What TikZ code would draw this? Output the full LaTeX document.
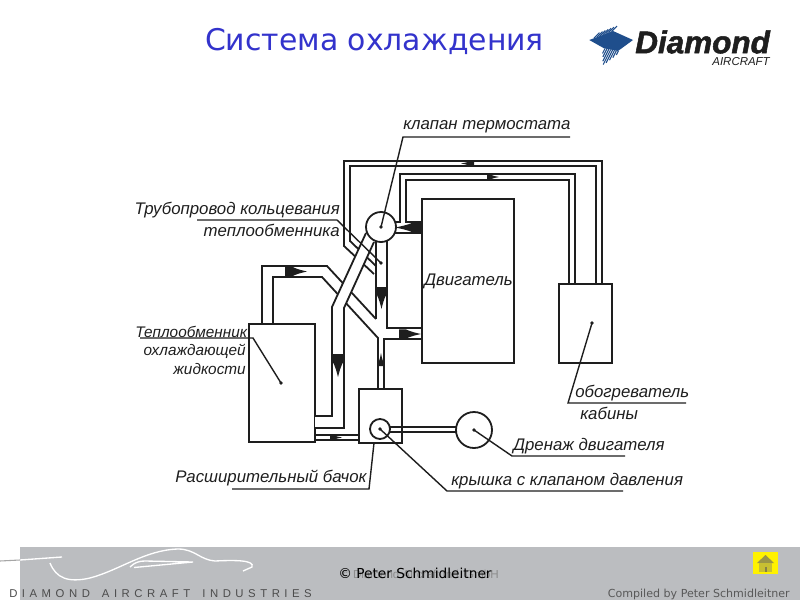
\documentclass[tikz,border=0pt]{standalone}
\usepackage{fontspec}
\setmainfont[BoldItalicFeatures={FakeBold=1.6}]{Liberation Sans}
\newfontfamily\titlefont{DejaVu Sans}
\usetikzlibrary{calc}
\definecolor{band}{HTML}{BBBDC0}
\definecolor{ink}{HTML}{1E1E1E}
\definecolor{titleblue}{HTML}{3333CC}
\definecolor{logoblue}{HTML}{1F4E8C}
\tikzset{
  pipe/.style={draw=ink,line width=1.35pt,line join=miter},
  unit/.style={draw=ink,line width=1.35pt,fill=white,inner sep=0pt,outer sep=0pt,anchor=north west},
  ring/.style={draw=ink,line width=1.35pt,fill=white,circle,inner sep=0pt,outer sep=0pt},
  leader/.style={draw=ink,line width=1.05pt},
  tag/.style={font=\fontsize{12.6}{14}\selectfont\itshape,text=ink,inner sep=0pt},
  tagsmall/.style={tag,font=\fontsize{11.5}{14}\selectfont\itshape},
  pinpoint/.style={fill=ink,circle,inner sep=0pt,minimum size=2.8pt},
  swoosh/.style={draw=white,line width=1pt},
}
% x y angle length width (pixels)
\newcommand{\flowmark}[5]{%
  \begin{scope}[shift={(#1,#2)},rotate=#3]
    \fill[ink] (0,-#5/2) -- (#4*0.3,-#5/2) .. controls (#4*0.55,-#5*0.22) and (#4*0.8,-#5*0.1) .. (#4,0)
      .. controls (#4*0.8,#5*0.1) and (#4*0.55,#5*0.22) .. (#4*0.3,#5/2) -- (0,#5/2) -- cycle;
  \end{scope}}
\begin{document}
\begin{tikzpicture}[x=0.75pt,y=-0.75pt]
\useasboundingbox (0,0) rectangle (800,600);
\fill[white] (0,0) rectangle (800,600);

% header
\node[font=\titlefont\fontsize{22.4}{26}\selectfont,text=titleblue,inner sep=0pt] (title) at (374.5,41) {Система охлаждения};

% logo
\begin{scope}
  \fill[logoblue] (589.3,40) -- (613,31) -- (633,40) -- (618,51) -- (604,48.3) -- cycle;
  \foreach \t in {0,1,...,6} {
    \draw[logoblue,line width=0.8pt] ($(594,38.2)+(\t*2.9,-\t*1.1)$) -- ++(5.5,-5.5);
  }
  \foreach \t/\l in {0/5,1/8,2/12,3/15,4/13,5/10,6/7,7/4} {
    \draw[logoblue,line width=0.8pt] ($(605,48.5)+(\t*1.9,\t*0.35)$) -- ++(-0.5*\l,\l);
  }
\end{scope}
\node[font=\fontsize{23.6}{26}\selectfont\bfseries\itshape,text=ink,inner sep=0pt,anchor=west] (brand) at (635,42) {Diamond};
\node[font=\fontsize{8.6}{10}\selectfont\itshape,text=ink,inner sep=0pt,anchor=east] (brandsub) at (770,62) {AIRCRAFT};

% units
\node[unit,minimum width=69pt,minimum height=123pt] (engine) at (422,199) {};
\node[unit,minimum width=39.75pt,minimum height=59.25pt] (heater) at (559,284) {};
\node[unit,minimum width=49.5pt,minimum height=88.5pt] (radiator) at (249,324) {};
\node[unit,minimum width=32.25pt,minimum height=40.5pt] (tank) at (359,389) {};

% heater loops
\draw[pipe] (602,284) -- (602,161) -- (344,161) -- (344,246) -- (374,274);
\draw[pipe] (596,284) -- (596,166) -- (350,166) -- (350,241) -- (376,266);
\draw[pipe] (575,284) -- (575,174) -- (400,174) -- (400,222) -- (394,222);
\draw[pipe] (569,284) -- (569,180) -- (406,180) -- (406,222) -- (422,222);
\draw[pipe] (394,233) -- (422,233);

% vertical line below the valve
\draw[pipe] (376,240) -- (376,319);
\draw[pipe] (387,240) -- (387,328) -- (422,328);

% radiator outflow to engine
\draw[pipe] (262,324) -- (262,266) -- (327,266) -- (376,319);
\draw[pipe] (273,324) -- (273,277) -- (322,277) -- (378,338) -- (378,389);
\draw[pipe] (384,389) -- (384,339) -- (422,339);

% diagonal return pipe, drawn over the crossing lines
\fill[white] (366,233) -- (332,307) -- (332,416) -- (315,416) -- (315,428) -- (344,428) -- (344,308) -- (374,242) -- cycle;
\draw[pipe] (366,233) -- (332,307) -- (332,416) -- (315,416);
\draw[pipe] (374,242) -- (344,308) -- (344,428) -- (315,428);

% tank lines
\draw[pipe,line width=1.05pt] (315,435) -- (359,435);
\draw[pipe,line width=1.05pt] (315,440) -- (359,440);

% drain pipe
\draw[pipe,line width=1.05pt] (388,427) -- (458,427);
\draw[pipe,line width=1.05pt] (388,432) -- (458,432);

% rings
\node[ring,minimum size=22.5pt] (valve) at (381,227) {};
\node[ring,minimum size=15pt] (cap) at (380,429) {};
\node[ring,minimum size=27pt] (sump) at (474,430) {};

% flow marks
\flowmark{474}{163.5}{180}{13}{4.5}
\flowmark{487}{177}{0}{12}{4.5}
\flowmark{421}{227.5}{180}{26}{10}
\flowmark{381.5}{287}{-90}{22}{10.5}
\flowmark{285}{271.5}{0}{22}{10}
\flowmark{399}{334}{0}{22}{9.5}
\flowmark{381}{366}{90}{13}{4.5}
\flowmark{338}{354}{-90}{23}{11.5}
\flowmark{330}{437.5}{0}{12}{4.5}

% pinpoints
\coordinate (heaterpin) at (592,323);
\coordinate (radpin) at (281,383);
\coordinate (bypasspin) at (381,263);
\node[pinpoint] at (heaterpin) {};
\node[pinpoint] at (radpin) {};
\node[pinpoint] at (bypasspin) {};
\node[pinpoint] at (valve.center) {};
\node[pinpoint] at (cap.center) {};
\node[pinpoint] at (sump.center) {};

% labels
\node[tag,anchor=west] (lvalve) at (403,127) {клапан термостата};
\node[tag,anchor=east] (lpipe) at (340,210) {Трубопровод кольцевания};
\node[tag,anchor=east] (lpipeb) at (340,230) {теплообменника};
\node[tag,anchor=west] (lengine) at (424,281) {Двигатель};
\node[tagsmall,anchor=west] (lrad) at (135,332) {Теплообменник};
\node[tagsmall,anchor=east] (lradb) at (246,351) {охлаждающей};
\node[tagsmall,anchor=east] (lradc) at (246,369) {жидкости};
\node[tag,anchor=west] (lheat) at (575,393) {обогреватель};
\node[tag,anchor=west] (lheatb) at (580,413) {кабины};
\node[tag,anchor=west] (ldrain) at (513,446) {Дренаж двигателя};
\node[tag,anchor=west] (lcap) at (451,481) {крышка с клапаном давления};
\node[tag,anchor=west] (ltank) at (175,478) {Расширительный бачок};

% leaders
\draw[leader] (570,137) -- (403,137) -- (valve.center);
\draw[leader] (197,220) -- (337,220) -- (bypasspin);
\draw[leader] (140,338) -- (253,338) -- (radpin);
\draw[leader] (232,489) -- (369,489) -- (374,443);
\draw[leader] (623,491) -- (447,491) -- (cap.center);
\draw[leader] (625,456) -- (512,456) -- (sump.center);
\draw[leader] (686,403) -- (568,403) -- (heaterpin);

% footer
\fill[band] (20,547) rectangle (800,600);
\draw[swoosh,draw=black!35,line width=0.8pt] (0,561) -- (20,560);
\draw[swoosh] (20,560) -- (62,557);
\draw[swoosh] (50,563) .. controls (56,578) and (68,583) .. (90,578) .. controls (120,570) and (145,550) .. (178,549)
  .. controls (195,549) and (200,560) .. (215,561) .. controls (235,560) and (255,560) .. (252,567) -- (243,571);
\draw[swoosh] (130,567) .. controls (135,562) and (140,561) .. (145,561) -- (193,562) -- (134,567.5);
\node[font=\fontsize{8.7}{10}\selectfont,text=black!45,inner sep=0pt,anchor=west] (fine) at (341,574) {© Diamond Aircraft Ind.\ GmbH};
\node[font=\titlefont\fontsize{10.3}{12}\selectfont,text=black,inner sep=0pt,anchor=west] (copy) at (338,573) {© Peter Schmidleitner};
\node[font=\fontsize{8.5}{10}\selectfont,text=black!70,inner sep=0pt,anchor=west] (maker) at (9,594) {D\hspace{3.4pt}I\hspace{3.4pt}A\hspace{3.4pt}M\hspace{3.4pt}O\hspace{3.4pt}N\hspace{3.4pt}D\hspace{9pt}A\hspace{3.4pt}I\hspace{3.4pt}R\hspace{3.4pt}C\hspace{3.4pt}R\hspace{3.4pt}A\hspace{3.4pt}F\hspace{3.4pt}T\hspace{9pt}I\hspace{3.4pt}N\hspace{3.4pt}D\hspace{3.4pt}U\hspace{3.4pt}S\hspace{3.4pt}T\hspace{3.4pt}R\hspace{3.4pt}I\hspace{3.4pt}E\hspace{3.4pt}S};
\node[font=\titlefont\fontsize{8.3}{10}\selectfont,text=black!65,inner sep=0pt,anchor=east] (credit) at (790,594) {Compiled by Peter Schmidleitner};

% home button
\fill[yellow] (753,552) rectangle (778,574);
\fill[yellow!55!black] (765.5,555) -- (774,563) -- (757,563) -- cycle;
\fill[yellow!75!black] (759,563) rectangle (772,571.5);
\fill[yellow!45!black] (764.5,567) rectangle (766.5,571.5);
\end{tikzpicture}
\end{document}
